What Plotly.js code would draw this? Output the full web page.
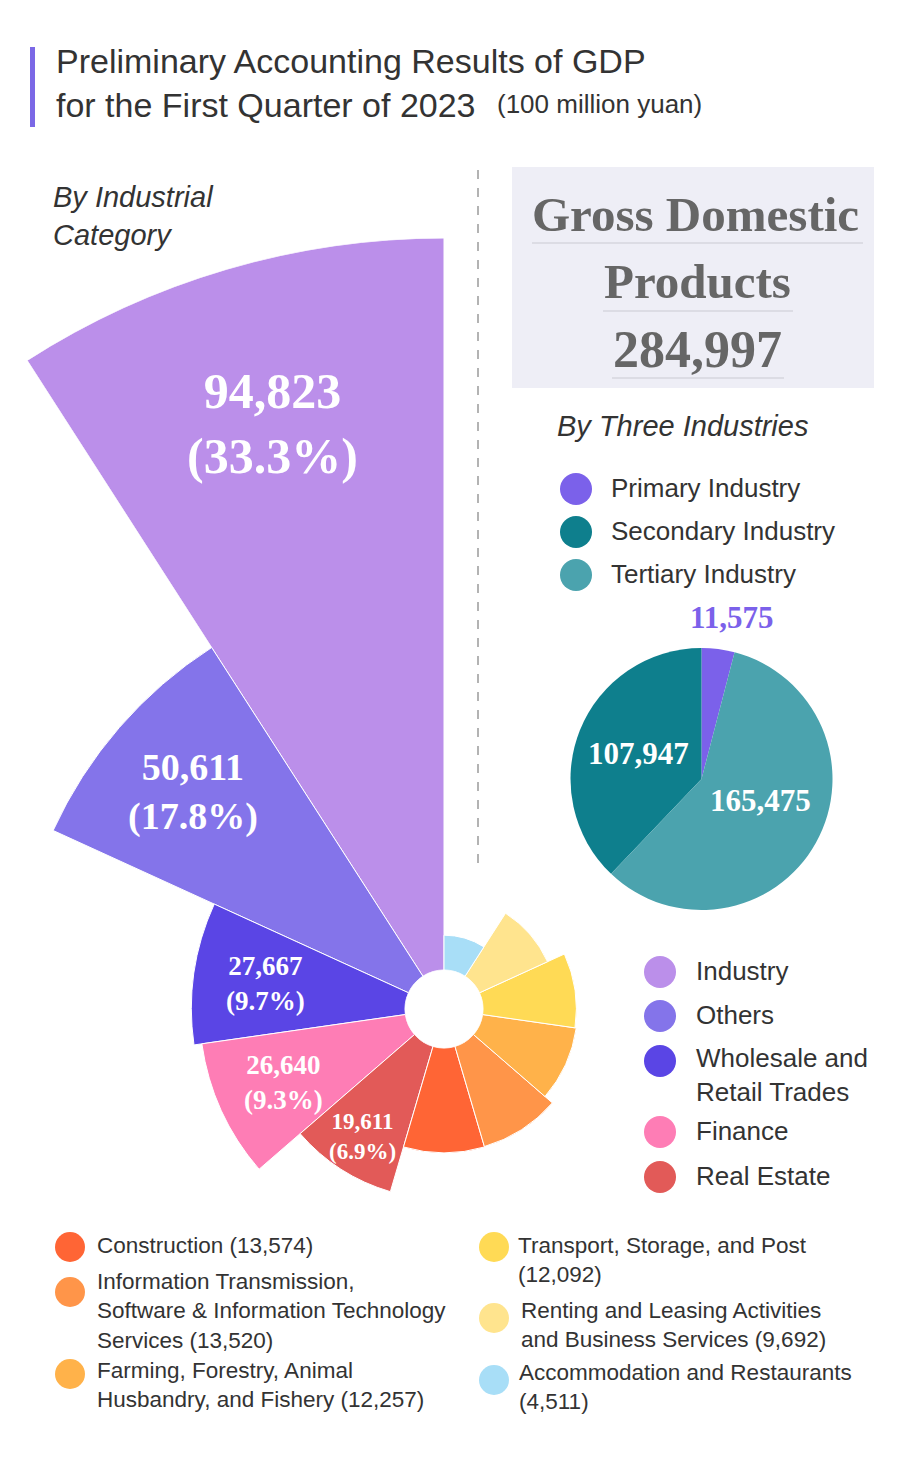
<!DOCTYPE html>
<html><head><meta charset="utf-8">
<script src="https://cdn.plot.ly/plotly-3.0.1.min.js"></script>
<style>html,body{margin:0;padding:0;background:#fff;} #chart{width:900px;height:1473px;}</style>
</head><body><div id="chart"></div>
<script>
// ---------------- DATA ----------------
const categories = ["Industry", "Others", "Wholesale and Retail Trades", "Finance", "Real Estate",
  "Construction", "Information Transmission, Software & Information Technology Services",
  "Farming, Forestry, Animal Husbandry, and Fishery", "Transport, Storage, and Post",
  "Renting and Leasing Activities and Business Services", "Accommodation and Restaurants"];
const values = [94823, 50611, 27667, 26640, 19611, 13574, 13520, 12257, 12092, 9692, 4511];
const categoryColors = ["#BB8FEA", "#8474EA", "#5A45E5", "#FE7DB5", "#E25A58",
  "#FF6535", "#FF9549", "#FFB24A", "#FFDA55", "#FFE48E", "#A8DEF7"];
// legend display text (line breaks as in the reference; {v} = value)
const legendText = ["Industry", "Others", "Wholesale and<br>Retail Trades", "Finance", "Real Estate",
  "Construction ({v})", "Information Transmission,<br>Software & Information Technology<br>Services ({v})",
  "Farming, Forestry, Animal<br>Husbandry, and Fishery ({v})", "Transport, Storage, and Post<br>({v})",
  "Renting and Leasing Activities<br>and Business Services ({v})", "Accommodation and Restaurants<br>({v})"];

const industries = ["Primary Industry", "Secondary Industry", "Tertiary Industry"];
const industryValues = [11575, 107947, 165475];
const industryColors = ["#7B61EA", "#0E7F8D", "#4BA3AE"];

const titleLines = ["Preliminary Accounting Results of GDP", "for the First Quarter of 2023"];
const unitText = "(100 million yuan)";
const gdpLabelLines = ["Gross Domestic", "Products"];

// ---------------- LAYOUT HELPERS ----------------
const W = 900, H = 1473;
const px = x => x / W;
const py = y => 1 - y / H;
const fmt = v => String(v).replace(/\B(?=(\d{3})+(?!\d))/g, ",");
const total = industryValues.reduce((a, b) => a + b, 0);
const pct = v => (100 * v / total).toFixed(1) + "%";

const SANS = "Liberation Sans, Arial, sans-serif";
const SERIF = "Liberation Serif, Times New Roman, serif";
const TXT = "#333333";

// polar geometry (pixels)
const cx = 444, cy = 1009, outerR = 771, holeR = 39, smallR = 440;
const step = 360 / categories.length;
const maxV = Math.max(...values);
const pxPerUnit = (outerR - holeR) / maxV;
const rangeB = (smallR - holeR) / pxPerUnit;
const thetas = values.map((v, i) => 90 + (i + 0.5) * step);
const idxAll = values.map((v, i) => i);
const aIdx = idxAll.filter(i => values[i] > rangeB);
const bIdx = idxAll.filter(i => values[i] <= rangeB);
const s0 = 90 + aIdx[0] * step, s1 = 90 + (aIdx[aIdx.length - 1] + 1) * step;
const rad = d => d * Math.PI / 180;
const bx0 = Math.min(0, Math.cos(rad(s0)), Math.cos(rad(s1)));
const bx1 = Math.max(0, Math.cos(rad(s0)), Math.cos(rad(s1)));
const by0 = Math.min(0, Math.sin(rad(s0)), Math.sin(rad(s1)));
const by1 = (s0 <= 90 && s1 >= 90) ? 1 : Math.max(0, Math.sin(rad(s0)), Math.sin(rad(s1)));

const hiddenAxes = {
  angularaxis: {visible: false, rotation: 0, direction: "counterclockwise", showgrid: false, showline: false, ticks: ""},
  bgcolor: "rgba(0,0,0,0)"
};

const traces = [
  {type: "barpolar", subplot: "polar",
   r: aIdx.map(i => values[i]), theta: aIdx.map(i => thetas[i]), width: aIdx.map(() => step),
   text: aIdx.map(i => categories[i]),
   marker: {color: aIdx.map(i => categoryColors[i]), line: {color: "#ffffff", width: 1}},
   hoverinfo: "text+r"},
  {type: "barpolar", subplot: "polar2",
   r: bIdx.map(i => values[i]), theta: bIdx.map(i => thetas[i]), width: bIdx.map(() => step),
   text: bIdx.map(i => categories[i]),
   marker: {color: bIdx.map(i => categoryColors[i]), line: {color: "#ffffff", width: 1}},
   hoverinfo: "text+r"}
];

// pie (counterclockwise: first slice spans [rotation, rotation + its angle] clockwise from 12 o'clock)
const pieCx = 701.5, pieCy = 779, pieR = 131;
const pieRotation = 0;
const pieStart = pieRotation + 360 * industryValues[0] / total;
traces.push({
  type: "pie", labels: industries, values: industryValues, sort: false,
  direction: "counterclockwise", rotation: pieRotation, textinfo: "none",
  marker: {colors: industryColors, line: {width: 0}},
  domain: {x: [px(pieCx - pieR), px(pieCx + pieR)], y: [py(pieCy + pieR), py(pieCy - pieR)]},
  hoverinfo: "label+value"
});

const shapes = [];
const annotations = [];
const ann = (x, y, text, size, opts) => annotations.push(Object.assign({
  xref: "paper", yref: "paper", x: px(x), y: py(y), text: text, showarrow: false,
  xanchor: "left", yanchor: "middle", align: "left",
  font: {family: SANS, size: size, color: TXT}
}, opts || {}));
const circle = (x, y, r, color) => shapes.push({type: "circle", xref: "paper", yref: "paper",
  x0: px(x - r), x1: px(x + r), y0: py(y + r), y1: py(y - r), fillcolor: color, line: {width: 0}});
const hline = (x0, x1, y, color, w, dash) => shapes.push({type: "line", xref: "paper", yref: "paper",
  x0: px(x0), x1: px(x1), y0: py(y), y1: py(y), line: {color: color, width: w, dash: dash || "solid"}});

// title decorations
shapes.push({type: "rect", xref: "paper", yref: "paper", x0: px(30), x1: px(35), y0: py(127), y1: py(47),
  fillcolor: "#7B68E6", line: {width: 0}});
ann(495, 104, unitText, 26);

// section headings
ann(51, 216, "By Industrial<br>Category", 29, {font: {family: SANS, size: 29, color: TXT, style: "italic"}});
ann(555, 426, "By Three Industries", 29, {font: {family: SANS, size: 29, color: TXT, style: "italic"}});

// dashed divider
shapes.push({type: "line", xref: "paper", yref: "paper", x0: px(478), x1: px(478), y0: py(170), y1: py(868),
  line: {color: "#9a9a9a", width: 1.5, dash: "dash"}});

// GDP box
shapes.push({type: "rect", xref: "paper", yref: "paper", x0: px(512), x1: px(874), y0: py(388), y1: py(167),
  fillcolor: "#EEEEF6", line: {width: 0}});
const gdpFont = {family: SERIF, size: 49, color: "#666666", weight: 700};
ann(695, 214, gdpLabelLines[0], 49, {xanchor: "center", font: gdpFont});
ann(697, 282, gdpLabelLines[1], 49, {xanchor: "center", font: gdpFont});
ann(697, 349, fmt(total), 49, {xanchor: "center", font: Object.assign({}, gdpFont, {size: 52})});
hline(532, 863, 243, "#DCDCE4", 2);
hline(603, 793, 311, "#DCDCE4", 2);
hline(612, 784, 378, "#DCDCE4", 2);

// three-industry legend
const topLegY = [488, 531, 574];
industries.forEach((name, i) => {
  circle(576, topLegY[i] + 1, 16, industryColors[i]);
  ann(609, topLegY[i], name, 26);
});

// category legend (right side)
const rightLeg = [{c: 972, t: 971}, {c: 1016, t: 1015}, {c: 1061, t: 1075}, {c: 1132, t: 1131}, {c: 1177, t: 1176}];
rightLeg.forEach((p, k) => {
  circle(660, p.c, 16, categoryColors[k]);
  ann(694, p.t, legendText[k], 26);
});

// category legend (bottom)
const bottomLeg = [
  {cx: 70, cy: 1247, tx: 95, ty: 1245},
  {cx: 70, cy: 1292, tx: 95, ty: 1311},
  {cx: 70, cy: 1374, tx: 95, ty: 1385},
  {cx: 494, cy: 1247, tx: 516, ty: 1260},
  {cx: 494, cy: 1318, tx: 519, ty: 1325},
  {cx: 494, cy: 1380, tx: 517, ty: 1387}
];
bottomLeg.forEach((p, k) => {
  const i = k + rightLeg.length;
  circle(p.cx, p.cy, 15, categoryColors[i]);
  ann(p.tx, p.ty, legendText[i].replace("{v}", fmt(values[i])), 22.5);
});

// value labels on the largest sectors
const labelSizes = [50, 38, 27, 27, 23];
const labelRadiusFrac = [0.78, 0.75, 0.66, 0.67, 0.74];
labelSizes.forEach((sz, i) => {
  const rl = holeR + values[i] * pxPerUnit * labelRadiusFrac[i];
  const x = cx + rl * Math.cos(rad(thetas[i]));
  const y = cy - rl * Math.sin(rad(thetas[i]));
  ann(x, y, fmt(values[i]) + "<br>(" + pct(values[i]) + ")", sz,
    {xanchor: "center", align: "center", font: {family: SERIF, size: sz, color: "#ffffff", weight: 700}});
});

// pie labels
const pieLabelFrac = [1.24, 0.52, 0.5];
const pieLabelShift = [[10, 0], [0, 0], [2, 10]];
const pieLabelColor = [industryColors[0], "#ffffff", "#ffffff"];
let cum = 0;
industryValues.forEach((v, i) => {
  const mid = pieStart - (cum + v / 2) / total * 360;
  cum += v;
  const x = pieCx + pieLabelFrac[i] * pieR * Math.sin(rad(mid));
  const y = pieCy - pieLabelFrac[i] * pieR * Math.cos(rad(mid));
  ann(x, y, fmt(v), 31, {xanchor: "center", align: "center",
    xshift: pieLabelShift[i][0], yshift: pieLabelShift[i][1],
    font: {family: SERIF, size: 31, color: pieLabelColor[i], weight: 700}});
});

const layout = {
  width: W, height: H, margin: {l: 0, r: 0, t: 0, b: 0},
  paper_bgcolor: "#ffffff", showlegend: false,
  title: {text: titleLines.join("<br>"), x: px(56), xanchor: "left", xref: "paper",
          y: py(73), yanchor: "middle", yref: "paper",
          font: {family: SANS, size: 34, color: TXT}},
  polar: Object.assign({
    domain: {x: [px(cx + outerR * bx0), px(cx + outerR * bx1)], y: [py(cy - outerR * by0), py(cy - outerR * by1)]},
    sector: [s0, s1], hole: holeR / outerR,
    radialaxis: {visible: false, range: [0, maxV], showgrid: false, showline: false, ticks: ""}
  }, hiddenAxes),
  polar2: Object.assign({
    domain: {x: [px(cx - smallR), px(cx + smallR)], y: [py(cy + smallR), py(cy - smallR)]},
    sector: [0, 360], hole: holeR / smallR,
    radialaxis: {visible: false, range: [0, rangeB], showgrid: false, showline: false, ticks: ""}
  }, hiddenAxes),
  shapes: shapes,
  annotations: annotations
};

Plotly.newPlot("chart", traces, layout, {staticPlot: true, displayModeBar: false});
</script>
</body></html>
